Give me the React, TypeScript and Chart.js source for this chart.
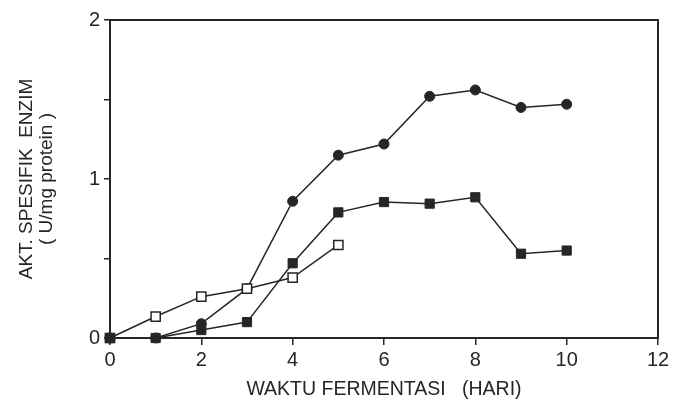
import React, { useEffect, useRef } from "react";
import { Chart, registerables } from "chart.js";

Chart.register(...registerables);

// Days (x) and values (y)
const daysFull = [0, 1, 2, 3, 4, 5, 6, 7, 8, 9, 10];
const daysOpen = [0, 1, 2, 3, 4, 5];
const circleValues = [0, 0, 0.09, 0.31, 0.86, 1.15, 1.22, 1.52, 1.56, 1.45, 1.47];
const filledSquareValues = [0, 0, 0.05, 0.1, 0.47, 0.79, 0.855, 0.845, 0.885, 0.53, 0.55];
const openSquareValues = [0, 0.135, 0.26, 0.31, 0.38, 0.585];

const xTitle = "WAKTU FERMENTASI   (HARI)";
const yTitle = ["AKT. SPESIFIK  ENZIM", "( U/mg protein )"];

const INK = "#262626";

const toPoints = (xs: number[], ys: number[]) => xs.map((x, i) => ({ x, y: ys[i] }));

const frame = {
  id: "frameBox",
  afterDatasetsDraw(chart: any) {
    const { ctx, chartArea } = chart;
    ctx.save();
    ctx.strokeStyle = INK;
    ctx.lineWidth = 2;
    ctx.strokeRect(chartArea.left, chartArea.top, chartArea.right - chartArea.left, chartArea.bottom - chartArea.top);
    ctx.restore();
  },
};

export default function App() {
  const ref = useRef<HTMLCanvasElement | null>(null);

  useEffect(() => {
    if (!ref.current) return;
    const chart = new Chart(ref.current, {
      type: "line",
      data: {
        datasets: [
          {
            label: "filled squares",
            data: toPoints(daysFull, filledSquareValues),
            borderColor: INK,
            borderWidth: 1.5,
            pointStyle: "rect",
            pointRadius: 6.5,
            pointBorderWidth: 1,
            pointBackgroundColor: INK,
            pointBorderColor: INK,
            clip: false,
          },
          {
            label: "open squares",
            data: toPoints(daysOpen, openSquareValues),
            borderColor: INK,
            borderWidth: 1.5,
            pointStyle: "rect",
            pointRadius: 6.5,
            pointBorderWidth: 1.5,
            pointBackgroundColor: "#ffffff",
            pointBorderColor: INK,
            clip: false,
          },
          {
            label: "circles",
            data: toPoints(daysFull, circleValues),
            borderColor: INK,
            borderWidth: 1.5,
            pointStyle: "circle",
            pointRadius: 5,
            pointBorderWidth: 1,
            pointBackgroundColor: INK,
            pointBorderColor: INK,
            clip: false,
          },
        ],
      },
      options: {
        animation: false,
        responsive: false,
        layout: { padding: { left: 0, right: 21, top: 20, bottom: 0 } },
        plugins: { legend: { display: false }, tooltip: { enabled: false } },
        scales: {
          x: {
            type: "linear",
            min: 0,
            max: 12,
            afterFit: (s: any) => {
              s.height = 63;
            },
            ticks: {
              stepSize: 2,
              color: INK,
              padding: 3,
              font: { family: "Liberation Sans", size: 20 },
            },
            grid: { drawOnChartArea: false, drawTicks: true, tickLength: 7, color: INK, lineWidth: 1.5 },
            border: { display: true, color: INK, width: 2 },
            title: {
              display: true,
              text: xTitle,
              color: INK,
              padding: { top: 0, bottom: 0 },
              font: { family: "Liberation Sans", size: 19.5, lineHeight: 1.2 },
            },
          },
          y: {
            type: "linear",
            min: 0,
            max: 2,
            afterFit: (s: any) => {
              s.width = 110;
            },
            ticks: {
              stepSize: 0.5,
              color: INK,
              padding: 4,
              font: { family: "Liberation Sans", size: 20 },
              callback: (v: any) => (Number(v) % 1 === 0 ? String(v) : ""),
            },
            grid: { drawOnChartArea: false, drawTicks: true, tickLength: 6, color: INK, lineWidth: 1.5 },
            border: { display: true, color: INK, width: 2 },
            title: {
              display: true,
              text: yTitle,
              color: INK,
              padding: { top: 17, bottom: 0 },
              font: { family: "Liberation Sans", size: 19, lineHeight: 1.05 },
            },
          },
        },
      },
      plugins: [frame],
    });
    return () => chart.destroy();
  }, []);

  return (
    <div style={{ position: "fixed", left: 0, top: 0, width: 679, height: 401, background: "#fff" }}>
      <canvas ref={ref} width={679} height={401} style={{ display: "block" }} />
    </div>
  );
}
